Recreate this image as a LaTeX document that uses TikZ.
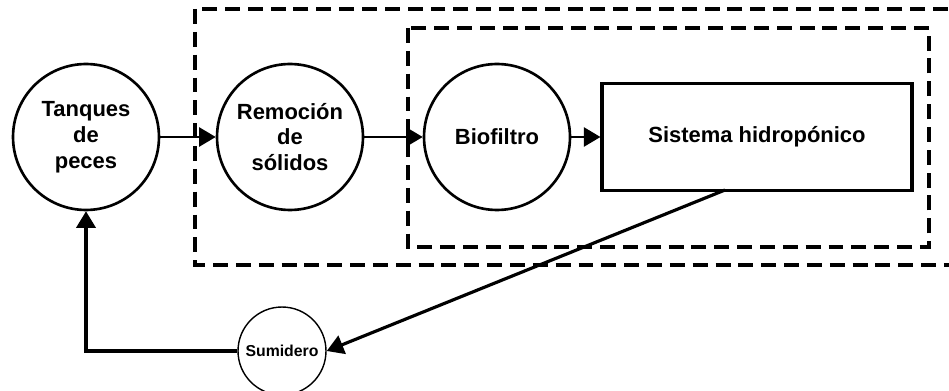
\documentclass[tikz,border=0pt]{standalone}
\usepackage{fontspec}
\setmainfont{Liberation Sans}
\usetikzlibrary{positioning,arrows.meta}

\begin{document}
\begin{tikzpicture}[x=0.02cm, y=-0.02cm,
  stage/.style={draw, circle, line width=1.5pt, minimum size=2.92cm, inner sep=0pt, align=center,
    font=\bfseries\fontsize{12.5}{14.7}\selectfont},
  flow/.style={-{Triangle[length=9.5pt,width=11pt]}, line width=1.1pt},
  back/.style={flow, line width=1.8pt},
  zone/.style={dash pattern=on 8.5pt off 4.5pt, line width=2pt}]
\useasboundingbox (0,0) rectangle (949,391);

% Dashed zones
\draw [zone] (195,9) rectangle (955,265);
\draw [zone] (408,28) rectangle (929,247);

% Treatment units
\node (tq) [stage] at ( 86,137) {Tanques\\de\\peces};
\node (rs) [stage] at (290,137) {Remoción\\de\\sólidos};
\node (bf) [stage] at (497,137) {Biofiltro};
\node (hp) [draw, rectangle, line width=1.8pt, minimum width=6.2cm, minimum height=2.14cm,
  font=\bfseries\fontsize{12.5}{14.7}\selectfont] at (757,137) {Sistema hidropónico};

% Sump
\node (sm) [draw, circle, line width=0.8pt, minimum size=1.76cm, inner sep=0pt,
  font=\bfseries\fontsize{9}{10}\selectfont] at (282,351) {Sumidero};

% Connections
\draw [flow] (tq) -- (rs);
\draw [flow] (rs) -- (bf);
\draw [flow] (bf) -- (hp);
\coordinate (out) at (725,190);
\draw [back] (out) -- (sm.east);
\draw [back] (sm.west) -| (tq.south);

\end{tikzpicture}
\end{document}
